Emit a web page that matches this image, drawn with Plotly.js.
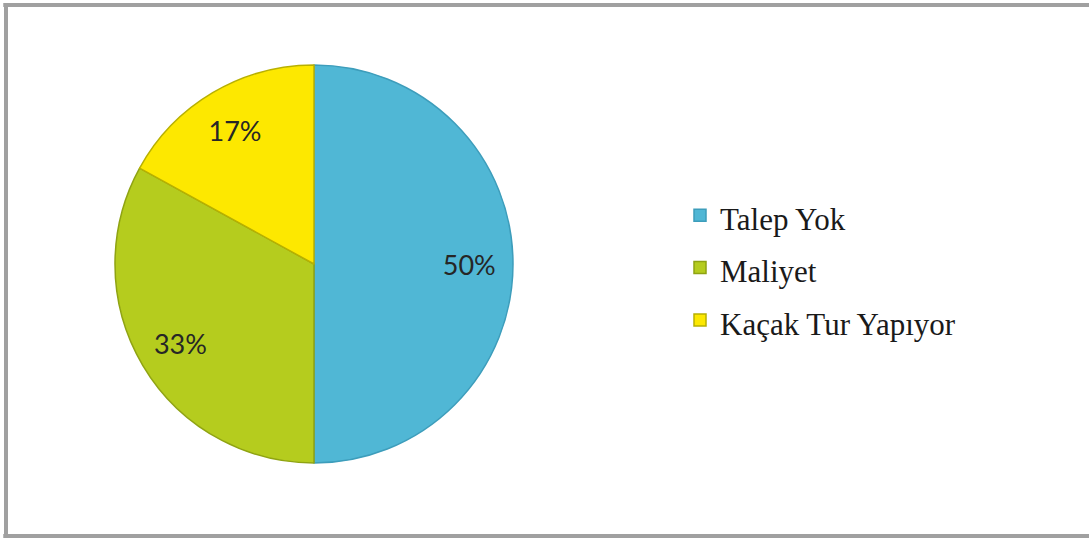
<!DOCTYPE html>
<html>
<head>
<meta charset="utf-8">
<script src="https://cdn.plot.ly/plotly-3.0.1.min.js"></script>
<style>html,body{margin:0;padding:0;background:#fff;}#chart{width:1089px;height:538px;}</style>
</head>
<body>
<div id="chart"></div>
<script>
const categories = ["Talep Yok", "Maliyet", "Kaçak Tur Yapıyor"];
const shares = [50, 33, 17];
const sliceColors = ["#50b7d5", "#b5cc1e", "#fde800"];
const sliceEdges = ["#3d9dbb", "#8fa312", "#b8b000"];

const legendLabels = categories.map(c => '<span style="font-size:31px">' + c + '</span>');

const dom = {x: [115/1089, 513/1089], y: [1 - 463/538, 1 - 65/538]};

const basePie = {
  type: 'pie',
  labels: legendLabels,
  values: shares,
  sort: false,
  direction: 'clockwise',
  rotation: 0,
  domain: dom,
  marker: {colors: sliceColors, line: {color: sliceEdges, width: 1.5}},
  textinfo: 'none',
  hoverinfo: 'label+percent',
  showlegend: true
};

const labelPie = {
  type: 'pie',
  labels: legendLabels,
  values: shares,
  sort: false,
  direction: 'clockwise',
  rotation: 0,
  hole: 0.56,
  domain: dom,
  marker: {colors: categories.map(() => 'rgba(0,0,0,0)'), line: {width: 0}},
  texttemplate: '%{percent:.0%}',
  textposition: 'inside',
  insidetextorientation: 'horizontal',
  textfont: {family: 'Lato, "Open Sans", sans-serif', size: 27, color: '#262626'},
  hoverinfo: 'skip',
  showlegend: false
};

const layout = {
  width: 1089,
  height: 538,
  margin: {l: 0, r: 0, t: 0, b: 0},
  paper_bgcolor: '#ffffff',
  plot_bgcolor: '#ffffff',
  showlegend: true,
  legend: {
    x: 680/1089,
    xanchor: 'left',
    y: 1 - 268/538,
    yanchor: 'middle',
    font: {family: '"Liberation Serif", "Times New Roman", serif', size: 38, color: '#1a1a1a'},
    bgcolor: 'rgba(0,0,0,0)',
    borderwidth: 0,
    itemclick: false
  },
  shapes: [
    {type: 'line', xref: 'paper', yref: 'paper', x0: 0.003, x1: 1, y0: 1 - 5/538, y1: 1 - 5/538, line: {color: '#a0a0a0', width: 4}},
    {type: 'line', xref: 'paper', yref: 'paper', x0: 6/1089, x1: 6/1089, y0: 0, y1: 1 - 3/538, line: {color: '#a0a0a0', width: 4}},
    {type: 'line', xref: 'paper', yref: 'paper', x0: 0.003, x1: 1, y0: 2/538, y1: 2/538, line: {color: '#a0a0a0', width: 4}}
  ]
};

Plotly.newPlot('chart', [basePie, labelPie], layout, {displayModeBar: false});
</script>
</body>
</html>
